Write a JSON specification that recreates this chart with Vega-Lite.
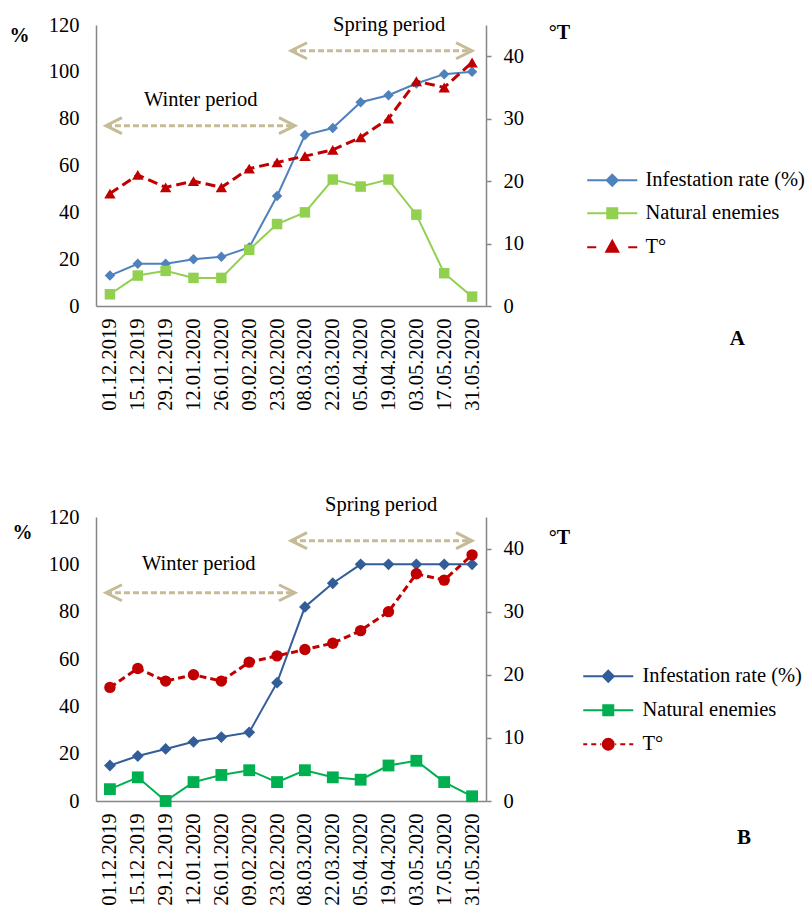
{
  "$schema": "https://vega.github.io/schema/vega-lite/v6.json",
  "background": "white",
  "padding": {"left": 9, "top": 15, "right": 0, "bottom": 0},
  "spacing": 84,
  "config": {
    "view": {"stroke": null},
    "font": "Liberation Serif",
    "axis": {
      "grid": false,
      "labelFont": "Liberation Serif",
      "labelFontSize": 20.5,
      "labelColor": "#000000",
      "domainColor": "#868686",
      "domainWidth": 1.5,
      "tickColor": "#868686",
      "tickWidth": 1.5,
      "titleFont": "Liberation Serif",
      "titleFontSize": 20,
      "titleFontWeight": "bold",
      "titleColor": "#000000",
      "labelOverlap": false
    }
  },
  "datasets": {
    "infestation": [
      {"panel": "A", "date": "2019-12-01", "series": "Infestation rate (%)", "value": 13},
      {"panel": "A", "date": "2019-12-15", "series": "Infestation rate (%)", "value": 18},
      {"panel": "A", "date": "2019-12-29", "series": "Infestation rate (%)", "value": 18},
      {"panel": "A", "date": "2020-01-12", "series": "Infestation rate (%)", "value": 20},
      {"panel": "A", "date": "2020-01-26", "series": "Infestation rate (%)", "value": 21},
      {"panel": "A", "date": "2020-02-09", "series": "Infestation rate (%)", "value": 25},
      {"panel": "A", "date": "2020-02-23", "series": "Infestation rate (%)", "value": 47},
      {"panel": "A", "date": "2020-03-08", "series": "Infestation rate (%)", "value": 73},
      {"panel": "A", "date": "2020-03-22", "series": "Infestation rate (%)", "value": 76},
      {"panel": "A", "date": "2020-04-05", "series": "Infestation rate (%)", "value": 87},
      {"panel": "A", "date": "2020-04-19", "series": "Infestation rate (%)", "value": 90},
      {"panel": "A", "date": "2020-05-03", "series": "Infestation rate (%)", "value": 95},
      {"panel": "A", "date": "2020-05-17", "series": "Infestation rate (%)", "value": 99},
      {"panel": "A", "date": "2020-05-31", "series": "Infestation rate (%)", "value": 100},
      {"panel": "A", "date": "2019-12-01", "series": "Natural enemies", "value": 5},
      {"panel": "A", "date": "2019-12-15", "series": "Natural enemies", "value": 13},
      {"panel": "A", "date": "2019-12-29", "series": "Natural enemies", "value": 15},
      {"panel": "A", "date": "2020-01-12", "series": "Natural enemies", "value": 12},
      {"panel": "A", "date": "2020-01-26", "series": "Natural enemies", "value": 12},
      {"panel": "A", "date": "2020-02-09", "series": "Natural enemies", "value": 24},
      {"panel": "A", "date": "2020-02-23", "series": "Natural enemies", "value": 35},
      {"panel": "A", "date": "2020-03-08", "series": "Natural enemies", "value": 40},
      {"panel": "A", "date": "2020-03-22", "series": "Natural enemies", "value": 54},
      {"panel": "A", "date": "2020-04-05", "series": "Natural enemies", "value": 51},
      {"panel": "A", "date": "2020-04-19", "series": "Natural enemies", "value": 54},
      {"panel": "A", "date": "2020-05-03", "series": "Natural enemies", "value": 39},
      {"panel": "A", "date": "2020-05-17", "series": "Natural enemies", "value": 14},
      {"panel": "A", "date": "2020-05-31", "series": "Natural enemies", "value": 4},
      {"panel": "B", "date": "2019-12-01", "series": "Infestation rate (%)", "value": 15},
      {"panel": "B", "date": "2019-12-15", "series": "Infestation rate (%)", "value": 19},
      {"panel": "B", "date": "2019-12-29", "series": "Infestation rate (%)", "value": 22},
      {"panel": "B", "date": "2020-01-12", "series": "Infestation rate (%)", "value": 25},
      {"panel": "B", "date": "2020-01-26", "series": "Infestation rate (%)", "value": 27},
      {"panel": "B", "date": "2020-02-09", "series": "Infestation rate (%)", "value": 29},
      {"panel": "B", "date": "2020-02-23", "series": "Infestation rate (%)", "value": 50},
      {"panel": "B", "date": "2020-03-08", "series": "Infestation rate (%)", "value": 82},
      {"panel": "B", "date": "2020-03-22", "series": "Infestation rate (%)", "value": 92},
      {"panel": "B", "date": "2020-04-05", "series": "Infestation rate (%)", "value": 100},
      {"panel": "B", "date": "2020-04-19", "series": "Infestation rate (%)", "value": 100},
      {"panel": "B", "date": "2020-05-03", "series": "Infestation rate (%)", "value": 100},
      {"panel": "B", "date": "2020-05-17", "series": "Infestation rate (%)", "value": 100},
      {"panel": "B", "date": "2020-05-31", "series": "Infestation rate (%)", "value": 100},
      {"panel": "B", "date": "2019-12-01", "series": "Natural enemies", "value": 5},
      {"panel": "B", "date": "2019-12-15", "series": "Natural enemies", "value": 10},
      {"panel": "B", "date": "2019-12-29", "series": "Natural enemies", "value": 0},
      {"panel": "B", "date": "2020-01-12", "series": "Natural enemies", "value": 8},
      {"panel": "B", "date": "2020-01-26", "series": "Natural enemies", "value": 11},
      {"panel": "B", "date": "2020-02-09", "series": "Natural enemies", "value": 13},
      {"panel": "B", "date": "2020-02-23", "series": "Natural enemies", "value": 8},
      {"panel": "B", "date": "2020-03-08", "series": "Natural enemies", "value": 13},
      {"panel": "B", "date": "2020-03-22", "series": "Natural enemies", "value": 10},
      {"panel": "B", "date": "2020-04-05", "series": "Natural enemies", "value": 9},
      {"panel": "B", "date": "2020-04-19", "series": "Natural enemies", "value": 15},
      {"panel": "B", "date": "2020-05-03", "series": "Natural enemies", "value": 17},
      {"panel": "B", "date": "2020-05-17", "series": "Natural enemies", "value": 8},
      {"panel": "B", "date": "2020-05-31", "series": "Natural enemies", "value": 2}
    ],
    "temperature": [
      {"date": "2019-12-01", "series": "T°", "value": 18},
      {"date": "2019-12-15", "series": "T°", "value": 21},
      {"date": "2019-12-29", "series": "T°", "value": 19},
      {"date": "2020-01-12", "series": "T°", "value": 20},
      {"date": "2020-01-26", "series": "T°", "value": 19},
      {"date": "2020-02-09", "series": "T°", "value": 22},
      {"date": "2020-02-23", "series": "T°", "value": 23},
      {"date": "2020-03-08", "series": "T°", "value": 24},
      {"date": "2020-03-22", "series": "T°", "value": 25},
      {"date": "2020-04-05", "series": "T°", "value": 27},
      {"date": "2020-04-19", "series": "T°", "value": 30},
      {"date": "2020-05-03", "series": "T°", "value": 36},
      {"date": "2020-05-17", "series": "T°", "value": 35},
      {"date": "2020-05-31", "series": "T°", "value": 39}
    ],
    "periods": [
      {"period": "Winter period", "start": "2019-11-29", "end": "2020-03-03"},
      {"period": "Spring period", "start": "2020-03-01", "end": "2020-05-31"}
    ]
  },
  "vconcat": [
    {
      "width": 390,
      "height": 281,
      "title": {"text": "A", "orient": "top", "anchor": "end", "frame": "group", "font": "Liberation Serif", "fontSize": 21, "fontWeight": "bold", "color": "#000000", "offset": 0, "baseline": "bottom", "dx": 259, "dy": 355},
      "layer": [
        {
          "layer": [
            {
              "data": {"name": "infestation"},
              "transform": [{"filter": "datum.panel === 'A'"}],
              "mark": {"type": "line", "strokeWidth": 2},
              "encoding": {
                "x": {"field": "date", "type": "temporal",
                  "scale": {"type": "utc", "nice": false, "domain": [{"year": 2019, "month": 11, "date": 24, "utc": true}, {"year": 2020, "month": 6, "date": 7, "utc": true}]},
                  "axis": {"title": null, "ticks": false, "tickCount": 30, "labelAngle": -90, "labelPadding": 12, "labelOverlap": false, "labelFlush": false, "labelBound": false,
                    "labelExpr": "utcFormat(datum.value, '%d.%m.%Y')",
                    "values": [{"year": 2019, "month": 12, "date": 1, "utc": true}, {"year": 2019, "month": 12, "date": 15, "utc": true}, {"year": 2019, "month": 12, "date": 29, "utc": true}, {"year": 2020, "month": 1, "date": 12, "utc": true}, {"year": 2020, "month": 1, "date": 26, "utc": true}, {"year": 2020, "month": 2, "date": 9, "utc": true}, {"year": 2020, "month": 2, "date": 23, "utc": true}, {"year": 2020, "month": 3, "date": 8, "utc": true}, {"year": 2020, "month": 3, "date": 22, "utc": true}, {"year": 2020, "month": 4, "date": 5, "utc": true}, {"year": 2020, "month": 4, "date": 19, "utc": true}, {"year": 2020, "month": 5, "date": 3, "utc": true}, {"year": 2020, "month": 5, "date": 17, "utc": true}, {"year": 2020, "month": 5, "date": 31, "utc": true}]}},
                "y": {"field": "value", "type": "quantitative", "scale": {"domain": [0, 120], "nice": false},
                  "axis": {"orient": "left", "values": [0, 20, 40, 60, 80, 100, 120], "ticks": false, "labelPadding": 17, "title": "%", "titleAngle": 0, "titleAlign": "center", "titleBaseline": "middle", "titleX": -77, "titleY": 10}},
                "color": {"field": "series", "type": "nominal",
                  "scale": {"domain": ["Infestation rate (%)", "Natural enemies", "T°"], "range": ["#4f81bd", "#92d050", "#c00000"]},
                  "legend": {"title": null, "orient": "none", "legendX": 506, "legendY": 145, "padding": 0, "symbolSize": 100, "labelFont": "Liberation Serif", "labelFontSize": 20.5, "labelColor": "#000000", "labelOffset": 23, "rowPadding": 12, "labelLimit": 300,
                    "encode": {"symbols": {"update": {
                      "shape": {"signal": "datum.value === 'T°' ? 'M-5,0H-3.2M3.2,0H5M0,-1.3L1.2,0.9H-1.2Z' : datum.value === 'Natural enemies' ? 'M-5,0H5M-1,-1H1V1H-1Z' : 'M-5,0H5M0,-1.1L1.1,0L0,1.1L-1.1,0Z'"},
                      "fill": {"signal": "datum.value === 'T°' ? '#c00000' : datum.value === 'Natural enemies' ? '#92d050' : '#4f81bd'"},
                      "stroke": {"signal": "datum.value === 'T°' ? '#c00000' : datum.value === 'Natural enemies' ? '#92d050' : '#4f81bd'"},
                      "strokeWidth": {"value": 2}, "strokeDash": {"value": []}, "opacity": {"value": 1}, "fillOpacity": {"value": 1}}}}}}
              }
            },
            {
              "data": {"name": "infestation"},
              "transform": [{"filter": "datum.panel === 'A' && datum.series === 'Infestation rate (%)'"}],
              "mark": {"type": "point", "shape": "diamond", "filled": true, "opacity": 1, "size": 110},
              "encoding": {
                "x": {"field": "date", "type": "temporal", "axis": {"labelOverlap": false, "tickCount": 30}},
                "y": {"field": "value", "type": "quantitative"},
                "color": {"field": "series", "type": "nominal"}
              }
            },
            {
              "data": {"name": "infestation"},
              "transform": [{"filter": "datum.panel === 'A' && datum.series === 'Natural enemies'"}],
              "mark": {"type": "point", "shape": "square", "filled": true, "opacity": 1, "size": 110},
              "encoding": {
                "x": {"field": "date", "type": "temporal", "axis": {"labelOverlap": false, "tickCount": 30}},
                "y": {"field": "value", "type": "quantitative"},
                "color": {"field": "series", "type": "nominal"}
              }
            },
            {
              "data": {"name": "periods"},
              "transform": [{"filter": "datum.period === 'Winter period'"}],
              "encoding": {"y": {"datum": 77}},
              "layer": [
                {"mark": {"type": "rule", "stroke": "#c6bb97", "strokeWidth": 3, "strokeDash": [6, 3]},
                  "encoding": {"x": {"field": "start", "type": "temporal", "axis": {"labelOverlap": false, "tickCount": 30}}, "x2": {"field": "end"}}},
                {"mark": {"type": "point", "shape": "M2,-1L0,0L2,1", "filled": false, "stroke": "#c6bb97", "strokeWidth": 3, "size": 256, "opacity": 1},
                  "encoding": {"x": {"field": "start", "type": "temporal", "axis": {"labelOverlap": false, "tickCount": 30}}}},
                {"mark": {"type": "point", "shape": "M-2,-1L0,0L-2,1", "filled": false, "stroke": "#c6bb97", "strokeWidth": 3, "size": 256, "opacity": 1},
                  "encoding": {"x": {"field": "end", "type": "temporal", "axis": {"labelOverlap": false, "tickCount": 30}}}},
                {"mark": {"type": "text", "align": "left", "baseline": "middle", "dx": 38, "font": "Liberation Serif", "fontSize": 20.5, "color": "#000000"},
                  "encoding": {"x": {"field": "start", "type": "temporal", "axis": {"labelOverlap": false, "tickCount": 30}}, "y": {"datum": 88}, "text": {"field": "period"}}}
              ]
            },
            {
              "data": {"name": "periods"},
              "transform": [{"filter": "datum.period === 'Spring period'"}],
              "encoding": {"y": {"datum": 109}},
              "layer": [
                {"mark": {"type": "rule", "stroke": "#c6bb97", "strokeWidth": 3, "strokeDash": [6, 3]},
                  "encoding": {"x": {"field": "start", "type": "temporal", "axis": {"labelOverlap": false, "tickCount": 30}}, "x2": {"field": "end"}}},
                {"mark": {"type": "point", "shape": "M2,-1L0,0L2,1", "filled": false, "stroke": "#c6bb97", "strokeWidth": 3, "size": 256, "opacity": 1},
                  "encoding": {"x": {"field": "start", "type": "temporal", "axis": {"labelOverlap": false, "tickCount": 30}}}},
                {"mark": {"type": "point", "shape": "M-2,-1L0,0L-2,1", "filled": false, "stroke": "#c6bb97", "strokeWidth": 3, "size": 256, "opacity": 1},
                  "encoding": {"x": {"field": "end", "type": "temporal", "axis": {"labelOverlap": false, "tickCount": 30}}}},
                {"mark": {"type": "text", "align": "left", "baseline": "middle", "dx": 42, "font": "Liberation Serif", "fontSize": 20.5, "color": "#000000"},
                  "encoding": {"x": {"field": "start", "type": "temporal", "axis": {"labelOverlap": false, "tickCount": 30}}, "y": {"datum": 120}, "text": {"field": "period"}}}
              ]
            }
          ]
        },
        {
          "layer": [
            {
              "data": {"name": "temperature"},
              "mark": {"type": "line", "strokeWidth": 3, "strokeDash": [10, 5]},
              "encoding": {
                "x": {"field": "date", "type": "temporal", "axis": {"labelOverlap": false, "tickCount": 30}},
                "y": {"field": "value", "type": "quantitative", "scale": {"domain": [0, 45], "nice": false},
                  "axis": {"orient": "right", "values": [0, 5, 10, 15, 20, 25, 30, 35, 40, 45], "tickSize": 5, "labelPadding": 12, "title": "°T", "titleAngle": 0, "titleAlign": "center", "titleBaseline": "middle", "titleX": 73, "titleY": 7}},
                "color": {"field": "series", "type": "nominal"}
              }
            },
            {
              "data": {"name": "temperature"},
              "mark": {"type": "point", "shape": "triangle-up", "filled": true, "opacity": 1, "size": 130},
              "encoding": {
                "x": {"field": "date", "type": "temporal", "axis": {"labelOverlap": false, "tickCount": 30}},
                "y": {"field": "value", "type": "quantitative"},
                "color": {"field": "series", "type": "nominal"}
              }
            }
          ]
        }
      ],
      "resolve": {"scale": {"y": "independent"}}
    },
    {
      "width": 390,
      "height": 284,
      "title": {"text": "B", "orient": "top", "anchor": "end", "frame": "group", "font": "Liberation Serif", "fontSize": 21, "fontWeight": "bold", "color": "#000000", "offset": 0, "baseline": "bottom", "dx": 265, "dy": 374},
      "layer": [
        {
          "layer": [
            {
              "data": {"name": "infestation"},
              "transform": [{"filter": "datum.panel === 'B'"}],
              "mark": {"type": "line", "strokeWidth": 2},
              "encoding": {
                "x": {"field": "date", "type": "temporal",
                  "scale": {"type": "utc", "nice": false, "domain": [{"year": 2019, "month": 11, "date": 24, "utc": true}, {"year": 2020, "month": 6, "date": 7, "utc": true}]},
                  "axis": {"title": null, "ticks": false, "tickCount": 30, "labelAngle": -90, "labelPadding": 12, "labelOverlap": false, "labelFlush": false, "labelBound": false,
                    "labelExpr": "utcFormat(datum.value, '%d.%m.%Y')",
                    "values": [{"year": 2019, "month": 12, "date": 1, "utc": true}, {"year": 2019, "month": 12, "date": 15, "utc": true}, {"year": 2019, "month": 12, "date": 29, "utc": true}, {"year": 2020, "month": 1, "date": 12, "utc": true}, {"year": 2020, "month": 1, "date": 26, "utc": true}, {"year": 2020, "month": 2, "date": 9, "utc": true}, {"year": 2020, "month": 2, "date": 23, "utc": true}, {"year": 2020, "month": 3, "date": 8, "utc": true}, {"year": 2020, "month": 3, "date": 22, "utc": true}, {"year": 2020, "month": 4, "date": 5, "utc": true}, {"year": 2020, "month": 4, "date": 19, "utc": true}, {"year": 2020, "month": 5, "date": 3, "utc": true}, {"year": 2020, "month": 5, "date": 17, "utc": true}, {"year": 2020, "month": 5, "date": 31, "utc": true}]}},
                "y": {"field": "value", "type": "quantitative", "scale": {"domain": [0, 120], "nice": false},
                  "axis": {"orient": "left", "values": [0, 20, 40, 60, 80, 100, 120], "ticks": false, "labelPadding": 17, "title": "%", "titleAngle": 0, "titleAlign": "center", "titleBaseline": "middle", "titleX": -74, "titleY": 15}},
                "color": {"field": "series", "type": "nominal",
                  "scale": {"domain": ["Infestation rate (%)", "Natural enemies", "T°"], "range": ["#335d98", "#00b050", "#c00000"]},
                  "legend": {"title": null, "orient": "none", "legendX": 502, "legendY": 149, "padding": 0, "symbolSize": 100, "labelFont": "Liberation Serif", "labelFontSize": 20.5, "labelColor": "#000000", "labelOffset": 24, "rowPadding": 13, "labelLimit": 300,
                    "encode": {"symbols": {"update": {
                      "shape": {"signal": "datum.value === 'T°' ? 'M-5,0H-4.2M-3.4,0H-2.4M-1.6,0H-1.4M1.4,0H1.6M2.4,0H3.4M4.2,0H5M-1.1,0A1.1,1.1,0,1,0,1.1,0A1.1,1.1,0,1,0,-1.1,0Z' : datum.value === 'Natural enemies' ? 'M-5,0H5M-1,-1H1V1H-1Z' : 'M-5,0H5M0,-1.1L1.1,0L0,1.1L-1.1,0Z'"},
                      "fill": {"signal": "datum.value === 'T°' ? '#c00000' : datum.value === 'Natural enemies' ? '#00b050' : '#335d98'"},
                      "stroke": {"signal": "datum.value === 'T°' ? '#c00000' : datum.value === 'Natural enemies' ? '#00b050' : '#335d98'"},
                      "strokeWidth": {"value": 2}, "strokeDash": {"value": []}, "opacity": {"value": 1}, "fillOpacity": {"value": 1}}}}}}
              }
            },
            {
              "data": {"name": "infestation"},
              "transform": [{"filter": "datum.panel === 'B' && datum.series === 'Infestation rate (%)'"}],
              "mark": {"type": "point", "shape": "diamond", "filled": true, "opacity": 1, "size": 140},
              "encoding": {
                "x": {"field": "date", "type": "temporal", "axis": {"labelOverlap": false, "tickCount": 30}},
                "y": {"field": "value", "type": "quantitative"},
                "color": {"field": "series", "type": "nominal"}
              }
            },
            {
              "data": {"name": "infestation"},
              "transform": [{"filter": "datum.panel === 'B' && datum.series === 'Natural enemies'"}],
              "mark": {"type": "point", "shape": "square", "filled": true, "opacity": 1, "size": 140},
              "encoding": {
                "x": {"field": "date", "type": "temporal", "axis": {"labelOverlap": false, "tickCount": 30}},
                "y": {"field": "value", "type": "quantitative"},
                "color": {"field": "series", "type": "nominal"}
              }
            },
            {
              "data": {"name": "periods"},
              "transform": [{"filter": "datum.period === 'Winter period'"}],
              "encoding": {"y": {"datum": 88}},
              "layer": [
                {"mark": {"type": "rule", "stroke": "#c6bb97", "strokeWidth": 3, "strokeDash": [6, 3]},
                  "encoding": {"x": {"field": "start", "type": "temporal", "axis": {"labelOverlap": false, "tickCount": 30}}, "x2": {"field": "end"}}},
                {"mark": {"type": "point", "shape": "M2,-1L0,0L2,1", "filled": false, "stroke": "#c6bb97", "strokeWidth": 3, "size": 256, "opacity": 1},
                  "encoding": {"x": {"field": "start", "type": "temporal", "axis": {"labelOverlap": false, "tickCount": 30}}}},
                {"mark": {"type": "point", "shape": "M-2,-1L0,0L-2,1", "filled": false, "stroke": "#c6bb97", "strokeWidth": 3, "size": 256, "opacity": 1},
                  "encoding": {"x": {"field": "end", "type": "temporal", "axis": {"labelOverlap": false, "tickCount": 30}}}},
                {"mark": {"type": "text", "align": "left", "baseline": "middle", "dx": 36, "font": "Liberation Serif", "fontSize": 20.5, "color": "#000000"},
                  "encoding": {"x": {"field": "start", "type": "temporal", "axis": {"labelOverlap": false, "tickCount": 30}}, "y": {"datum": 100}, "text": {"field": "period"}}}
              ]
            },
            {
              "data": {"name": "periods"},
              "transform": [{"filter": "datum.period === 'Spring period'"}],
              "encoding": {"y": {"datum": 110}},
              "layer": [
                {"mark": {"type": "rule", "stroke": "#c6bb97", "strokeWidth": 3, "strokeDash": [6, 3]},
                  "encoding": {"x": {"field": "start", "type": "temporal", "axis": {"labelOverlap": false, "tickCount": 30}}, "x2": {"field": "end"}}},
                {"mark": {"type": "point", "shape": "M2,-1L0,0L2,1", "filled": false, "stroke": "#c6bb97", "strokeWidth": 3, "size": 256, "opacity": 1},
                  "encoding": {"x": {"field": "start", "type": "temporal", "axis": {"labelOverlap": false, "tickCount": 30}}}},
                {"mark": {"type": "point", "shape": "M-2,-1L0,0L-2,1", "filled": false, "stroke": "#c6bb97", "strokeWidth": 3, "size": 256, "opacity": 1},
                  "encoding": {"x": {"field": "end", "type": "temporal", "axis": {"labelOverlap": false, "tickCount": 30}}}},
                {"mark": {"type": "text", "align": "left", "baseline": "middle", "dx": 34, "font": "Liberation Serif", "fontSize": 20.5, "color": "#000000"},
                  "encoding": {"x": {"field": "start", "type": "temporal", "axis": {"labelOverlap": false, "tickCount": 30}}, "y": {"datum": 125}, "text": {"field": "period"}}}
              ]
            }
          ]
        },
        {
          "layer": [
            {
              "data": {"name": "temperature"},
              "mark": {"type": "line", "strokeWidth": 3, "strokeDash": [7, 4]},
              "encoding": {
                "x": {"field": "date", "type": "temporal", "axis": {"labelOverlap": false, "tickCount": 30}},
                "y": {"field": "value", "type": "quantitative", "scale": {"domain": [0, 45], "nice": false},
                  "axis": {"orient": "right", "values": [0, 5, 10, 15, 20, 25, 30, 35, 40, 45], "tickSize": 5, "labelPadding": 12, "title": "°T", "titleAngle": 0, "titleAlign": "center", "titleBaseline": "middle", "titleX": 73, "titleY": 20}},
                "color": {"field": "series", "type": "nominal"}
              }
            },
            {
              "data": {"name": "temperature"},
              "mark": {"type": "point", "shape": "circle", "filled": true, "opacity": 1, "size": 130},
              "encoding": {
                "x": {"field": "date", "type": "temporal", "axis": {"labelOverlap": false, "tickCount": 30}},
                "y": {"field": "value", "type": "quantitative"},
                "color": {"field": "series", "type": "nominal"}
              }
            }
          ]
        }
      ],
      "resolve": {"scale": {"y": "independent"}}
    }
  ],
  "resolve": {"scale": {"color": "independent"}, "legend": {"color": "independent"}}
}
